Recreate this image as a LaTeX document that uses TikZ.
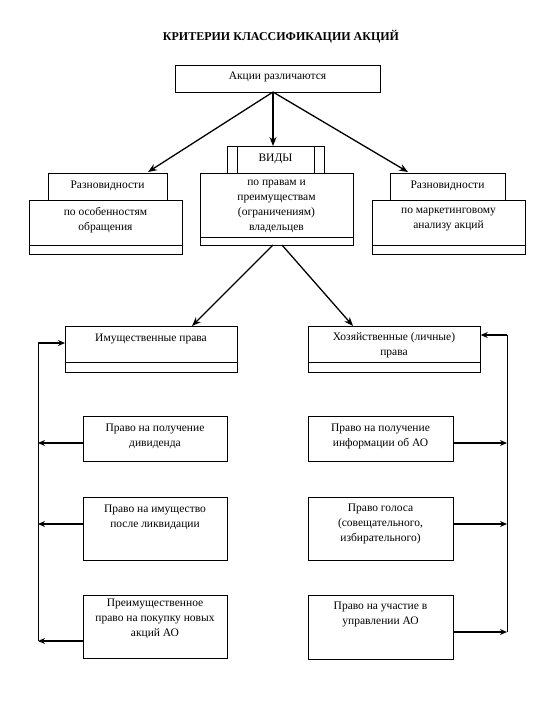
\documentclass[tikz,border=0pt]{standalone}
\usepackage{fontspec}
\setmainfont{Liberation Serif}
\usetikzlibrary{arrows.meta}
\begin{document}
\begin{tikzpicture}[x=1pt,y=-1pt,
  box/.style={draw,line width=0.7pt,inner sep=0pt,anchor=north west},
  txt/.style={align=center,inner sep=0pt,font=\fontsize{11.5}{15}\selectfont},
  arr/.style={line width=1.3pt,-{Stealth[length=9pt,width=7pt]}},
  fb/.style={line width=1.8pt,-{Stealth[length=7pt,width=6pt]}},
  vline/.style={line width=1pt}]
\useasboundingbox (0,0) rectangle (540,720);
\node[font=\fontsize{12}{14}\selectfont\bfseries] (title) at (281,37) {КРИТЕРИИ КЛАССИФИКАЦИИ АКЦИЙ};
% top box
\node[box,minimum width=205pt,minimum height=27pt] (top) at (175,65) {};
\node[txt] (ttop) at (277.5,77) {Акции различаются};
% left group
\node[box,minimum width=119pt,minimum height=27pt] (lh) at (48,173) {};
\node[txt] (tlh) at (107.5,186) {Разновидности};
\node[box,minimum width=153pt,minimum height=54pt] (lb) at (29,200) {};
\draw[line width=0.7pt] ([yshift=9pt]lb.south west) -- ([yshift=9pt]lb.south east);
\node[txt] (tlb) at (105.5,220) {по особенностям\\обращения};
% center group
\node[box,minimum width=97pt,minimum height=27pt] (ch) at (227,146) {};
\draw[line width=0.7pt] ([xshift=10pt]ch.north west) -- ([xshift=10pt]ch.south west);
\draw[line width=0.7pt] ([xshift=-10pt]ch.north east) -- ([xshift=-10pt]ch.south east);
\node[txt] (tch) at (275.5,159) {ВИДЫ};
\node[box,minimum width=153pt,minimum height=72pt] (cb) at (200,173) {};
\draw[line width=0.7pt] ([yshift=8pt]cb.south west) -- ([yshift=8pt]cb.south east);
\node[txt] (tcb) at (276.5,206) {по правам и\\преимуществам\\(ограничениям)\\владельцев};
% right group
\node[box,minimum width=115pt,minimum height=27pt] (rh) at (390,173) {};
\node[txt] (trh) at (447.5,186) {Разновидности};
\node[box,minimum width=153pt,minimum height=54pt] (rb) at (372,200) {};
\draw[line width=0.7pt] ([yshift=9pt]rb.south west) -- ([yshift=9pt]rb.south east);
\node[txt] (trb) at (448.5,220) {по маркетинговому\\анализу акций};
% arrows top
\coordinate (o) at (273,92);
\draw[arr] (o) -- (148,172);
\draw[arr] (o) -- (273,146);
\draw[arr] (o) -- (408,172);
% middle boxes
\node[box,minimum width=172pt,minimum height=46pt] (im) at (65,326) {};
\draw[line width=0.7pt] ([yshift=10pt]im.south west) -- ([yshift=10pt]im.south east);
\node[txt] (tim) at (151,339) {Имущественные права};
\node[box,minimum width=172pt,minimum height=46pt] (hz) at (308,326) {};
\draw[line width=0.7pt] ([yshift=10pt]hz.south west) -- ([yshift=10pt]hz.south east);
\node[txt] (thz) at (394,345) {Хозяйственные (личные)\\права};
\coordinate (c1) at (273,245);
\coordinate (c2) at (282,245);
\draw[arr] (c1) -- (192,326);
\draw[arr] (c2) -- (353,326);
% left column boxes
\node[box,minimum width=144pt,minimum height=45pt] (l1) at (83,416) {};
\node[txt] (tl1) at (155,436) {Право на получение\\дивиденда};
\node[box,minimum width=144pt,minimum height=63pt] (l2) at (83,497) {};
\node[txt] (tl2) at (155,517) {Право на имущество\\после ликвидации};
\node[box,minimum width=144pt,minimum height=63pt] (l3) at (83,595) {};
\node[txt] (tl3) at (155,619) {Преимущественное\\право на покупку новых\\акций АО};
% right column boxes
\node[box,minimum width=145pt,minimum height=45pt] (r1) at (308,416) {};
\node[txt] (tr1) at (380.5,436) {Право на получение\\информации об АО};
\node[box,minimum width=145pt,minimum height=63pt] (r2) at (308,497) {};
\node[txt] (tr2) at (380.5,524) {Право голоса\\(совещательного,\\избирательного)};
\node[box,minimum width=145pt,minimum height=64pt] (r3) at (308,595) {};
\node[txt] (tr3) at (380.5,614) {Право на участие в\\управлении АО};
% left loop
\coordinate (lt) at (38,343);
\coordinate (lbot) at (38,641);
\draw[vline] (lt) -- (lbot);
\draw[fb] (lt) -- (im.west |- lt);
\draw[fb] (l1.west |- 0,443) -- (38,443);
\draw[fb] (l2.west |- 0,524) -- (38,524);
\draw[fb] (l3.west |- lbot) -- (lbot);
% right loop
\coordinate (rt) at (507,335);
\coordinate (rbot) at (507,632);
\draw[vline] (rt) -- (rbot);
\draw[fb] (rt) -- (hz.east |- rt);
\draw[fb] (r1.east |- 0,443) -- (507,443);
\draw[fb] (r2.east |- 0,524) -- (507,524);
\draw[fb] (r3.east |- rbot) -- (rbot);
\end{tikzpicture}
\end{document}
